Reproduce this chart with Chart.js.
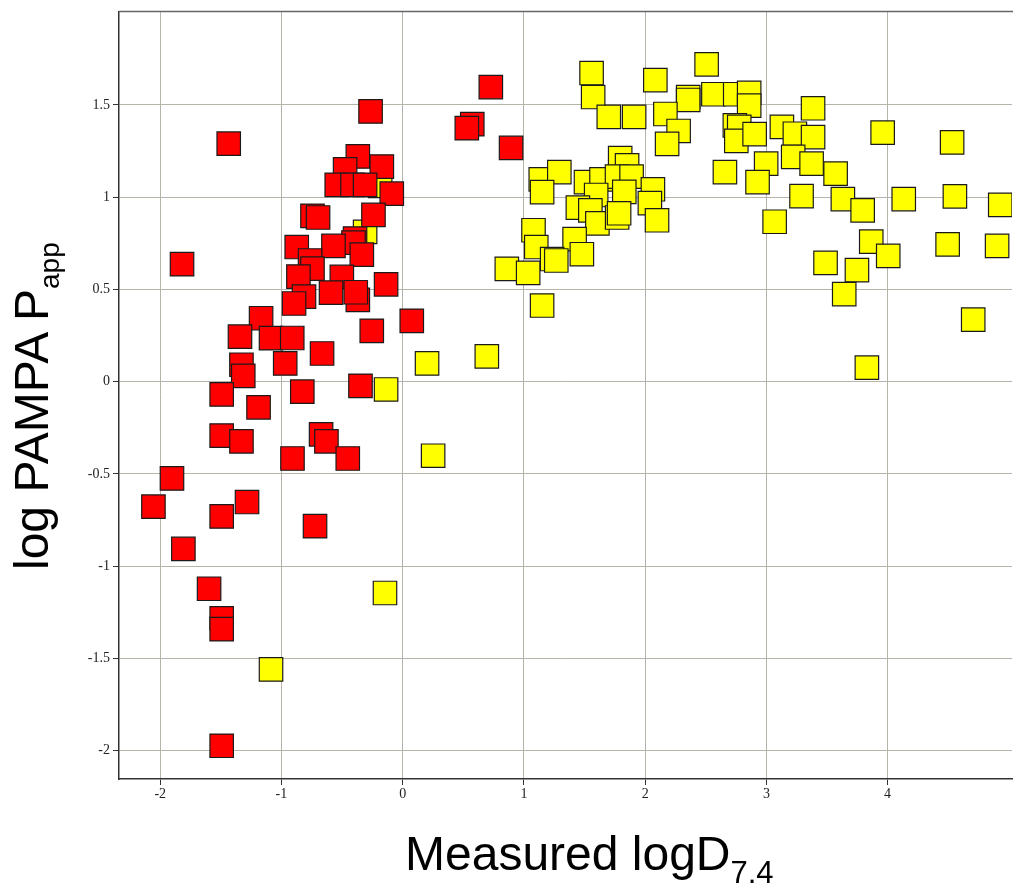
<!DOCTYPE html>
<html>
<head>
<meta charset="utf-8">
<script src="https://cdn.jsdelivr.net/npm/chart.js"></script>
<style>
  html, body { margin: 0; padding: 0; background: #fff; overflow: hidden; }
  #wrap { position: relative; width: 1013px; height: 883px; }
  canvas { position: absolute; left: 0; top: 0; }
  .ttl { position: absolute; font-family: "Liberation Sans", Arial, sans-serif; font-size: 48px; line-height: 1; color: #000; white-space: nowrap; }
  #ytitle { left: 8px; top: 570px; transform-origin: 0 0; transform: rotate(-90deg); }
  #xtitle { left: 405px; top: 830px; }
  .sub { position: relative; }
</style>
</head>
<body>
<div id="wrap">
  <canvas id="chart" width="1013" height="883"></canvas>
  <div class="ttl" id="ytitle">log PAMPA P<span class="sub" style="font-size:28px; top:11px">app</span></div>
  <div class="ttl" id="xtitle">Measured logD<span class="sub" style="font-size:31px; top:13px">7.4</span></div>
</div>
<script>
// measured logD7.4 vs log PAMPA Papp, two groups
const redX = [-1.435, -0.265, 0.727, 0.574, 0.529, 0.894, -0.370, -0.475, -0.172, -0.544, -0.414, -0.310,
  -0.090, -0.744, -0.698, -0.241, -0.393, -0.406, -0.337, -0.571, -0.874, -0.764, -0.744, -0.860, -0.502,
  -0.137, -0.591, -0.814, -0.896, -0.370, -0.387, -1.820, -1.168, 0.075, -0.255, -1.342, -1.086, -0.911,
  -0.665, -0.969, -1.330, -1.315, -1.493, -0.828, -0.348, -1.189, -1.493, -1.330, -0.673, -0.629, -0.909,
  -0.453, -1.903, -2.056, -1.493, -1.284, -0.723, -1.809, -1.597, -1.493, -1.493, -1.493];
const redY = [1.290, 1.465, 1.597, 1.396, 1.374, 1.267, 1.221, 1.151, 1.166, 1.067, 1.067, 1.067,
  1.019, 0.899, 0.890, 0.904, 0.776, 0.754, 0.689, 0.736, 0.730, 0.657, 0.613, 0.570, 0.568,
  0.528, 0.483, 0.461, 0.424, 0.444, 0.485, 0.637, 0.344, 0.330, 0.276, 0.244, 0.236, 0.237,
  0.153, 0.099, 0.092, 0.032, -0.069, -0.054, -0.022, -0.139, -0.292, -0.323, -0.285, -0.323, -0.416,
  -0.416, -0.524, -0.677, -0.730, -0.652, -0.783, -0.906, -1.122, -1.282, -1.341, -1.973];

const yellowX = [-0.186, -0.310, -0.137, 0.201, 0.251, 0.694, -0.146, -1.086, 1.558, 1.571, 1.700, 1.909,
  2.084, 2.507, 2.355, 2.355, 2.563, 2.743, 2.858, 2.858, 2.167, 2.276, 2.181, 2.658, 2.740, 2.776,
  2.752, 2.903, 3.128, 3.235, 3.385, 3.385, 3.221, 3.373, 2.998, 2.927, 3.571, 3.290, 3.631, 3.794,
  3.068, 3.865, 4.005, 3.488, 3.747, 3.642, 3.959, 4.532, 4.133, 4.555, 4.929, 4.495, 4.903, 4.706,
  3.829, 1.139, 1.292, 1.150, 1.512, 1.640, 1.794, 1.851, 1.768, 1.888, 2.064, 2.039, 2.098, 1.596,
  1.828, 1.445, 1.548, 1.606, 1.769, 1.785, 1.079, 1.102, 1.418, 1.478, 1.233, 1.267, 0.859, 1.035, 1.150];
const yellowY = [1.061, 0.812, -0.042, 0.099, -0.401, 0.137, -1.145, -1.559, 1.673, 1.543, 1.435, 1.435,
  1.635, 1.720, 1.543, 1.527, 1.558, 1.558, 1.565, 1.496, 1.451, 1.359, 1.289, 1.136, 1.389, 1.381,
  1.305, 1.342, 1.381, 1.344, 1.482, 1.326, 1.219, 1.182, 1.182, 1.082, 1.128, 1.006, 0.990, 0.929,
  0.867, 0.759, 0.682, 0.644, 0.605, 0.475, 1.350, 1.297, 0.990, 1.005, 0.958, 0.744, 0.736, 0.337,
  0.076, 1.097, 1.136, 1.028, 1.082, 1.097, 1.212, 1.173, 1.112, 1.112, 1.043, 0.968, 0.875, 1.012,
  1.029, 0.944, 0.929, 0.858, 0.890, 0.913, 0.821, 0.730, 0.773, 0.691, 0.665, 0.657, 0.612, 0.590, 0.413];

const xTicks = [-2, -1, 0, 1, 2, 3, 4];
const yTicks = [-2, -1.5, -1, -0.5, 0, 0.5, 1, 1.5];

const toPoints = (xs, ys) => xs.map((x, i) => ({ x: x, y: ys[i] }));

const gridCol = '#b6b3a8';
const tickFont = { family: '"Liberation Serif", "Times New Roman", serif', size: 14 };

// thin border along the top of the plot
const topLine = {
  id: 'topLine',
  afterDraw(chart) {
    const a = chart.chartArea, ctx = chart.ctx;
    ctx.save();
    ctx.strokeStyle = '#666';
    ctx.lineWidth = 1.5;
    ctx.beginPath();
    ctx.moveTo(a.left, a.top);
    ctx.lineTo(chart.width, a.top);
    ctx.stroke();
    ctx.restore();
  }
};

new Chart(document.getElementById('chart'), {
  type: 'scatter',
  data: {
    datasets: [
      {
        label: 'red',
        data: toPoints(redX, redY),
        pointStyle: 'rect',
        pointRadius: 16.6,
        pointHoverRadius: 16.6,
        backgroundColor: '#ff0000',
        borderColor: '#1a1a1a',
        borderWidth: 1.2
      },
      {
        label: 'yellow',
        data: toPoints(yellowX, yellowY),
        pointStyle: 'rect',
        pointRadius: 16.6,
        pointHoverRadius: 16.6,
        backgroundColor: '#ffff00',
        borderColor: '#1a1a1a',
        borderWidth: 1.2
      }
    ]
  },
  options: {
    responsive: false,
    animation: false,
    layout: { autoPadding: false, padding: { top: 11, right: 1, left: 0, bottom: 0 } },
    plugins: { legend: { display: false }, tooltip: { enabled: false } },
    scales: {
      x: {
        type: 'linear',
        min: -2.34,
        max: 5.026,
        afterBuildTicks: (s) => { s.ticks = xTicks.map(v => ({ value: v })); },
        afterFit: (s) => { s.height = 104; },
        ticks: { font: tickFont, color: '#222', padding: 1, maxRotation: 0, callback: (v) => String(v) },
        grid: { color: gridCol, lineWidth: 1, tickLength: 6, tickColor: '#333' },
        border: { color: '#333', width: 1.5 }
      },
      y: {
        type: 'linear',
        min: -2.153,
        max: 2.007,
        afterBuildTicks: (s) => { s.ticks = yTicks.map(v => ({ value: v })); },
        afterFit: (s) => { s.width = 119; },
        ticks: { font: tickFont, color: '#222', padding: 3, callback: (v) => String(v) },
        grid: { color: gridCol, lineWidth: 1, tickLength: 6, tickColor: '#333' },
        border: { color: '#333', width: 1.5 }
      }
    }
  },
  plugins: [topLine]
});
</script>
</body>
</html>
